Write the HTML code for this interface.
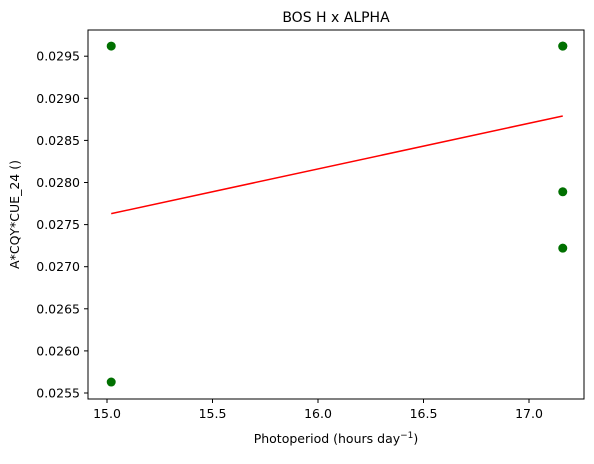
<!DOCTYPE html>
<html><head><meta charset="utf-8"><style>
body{margin:0;background:#fff;font-family:"DejaVu Sans","Liberation Sans",sans-serif;}
text{font-family:"DejaVu Sans","Liberation Sans",sans-serif;}
</style></head><body>
<svg id="chart" width="594" height="460" xmlns="http://www.w3.org/2000/svg"></svg>
<script>
const xTicks=[15.0,15.5,16.0,16.5,17.0];
const xTickLabels=["15.0","15.5","16.0","16.5","17.0"];
const yTicks=[0.0255,0.0260,0.0265,0.0270,0.0275,0.0280,0.0285,0.0290,0.0295];
const yTickLabels=["0.0255","0.0260","0.0265","0.0270","0.0275","0.0280","0.0285","0.0290","0.0295"];
const pointX=[15.02,15.02,17.16,17.16,17.16,17.16];
const pointY=[0.02962,0.02563,0.02962,0.02962,0.02789,0.02722];
const fitX=[15.02,17.16];
const fitY=[0.02763,0.02879];
const L=88,R=584,T=30,B=399;
const xs=v=>107+(v-15.0)*211;
const ys=v=>393-(v-0.0255)/0.0005*42.1;
const svg=document.getElementById('chart');
const NS="http://www.w3.org/2000/svg";
function mk(tag,attrs,parent){const e=document.createElementNS(NS,tag);for(const k in attrs)e.setAttribute(k,attrs[k]);(parent||svg).appendChild(e);return e;}
let frame=mk('rect',{x:L,y:T,width:R-L,height:B-T,fill:'none',stroke:'#000','stroke-width':1});


xTicks.forEach((v,i)=>{
 const x=xs(v);
 let t=mk('line',{x1:x,x2:x,y1:B,y2:B+4,stroke:'#000'});
 
 
 let l=mk('text',{x:x,y:B+19,'font-size':12.5,'text-anchor':'middle'});
 l.textContent=xTickLabels[i];
 
 
});
yTicks.forEach((v,i)=>{
 const y=ys(v);
 let t=mk('line',{x1:L-4,x2:L,y1:y,y2:y,stroke:'#000'});
 
 
 let l=mk('text',{x:L-8,y:y+4.5,'font-size':12.5,'text-anchor':'end'});
 l.textContent=yTickLabels[i];
 
 
});
let fit=mk('line',{x1:xs(fitX[0]),y1:ys(fitY[0]),x2:xs(fitX[1]),y2:ys(fitY[1]),stroke:'#ff0000','stroke-width':1.5});


pointX.forEach((v,i)=>{
 let c=mk('circle',{cx:xs(v),cy:ys(pointY[i]),r:4.5,fill:'#007000'});
 
 
});
let title=mk('text',{x:(L+R)/2,y:22,'font-size':14,'text-anchor':'middle'});
title.textContent='BOS H x ALPHA';


let xt=mk('text',{x:(L+R)/2,y:443,'font-size':12.5,'text-anchor':'middle'});
xt.innerHTML='Photoperiod (hours day<tspan dy="-5" font-size="9">−1</tspan><tspan dy="5">)</tspan>';


let yt=mk('text',{x:19,y:(T+B)/2,'font-size':12.5,'text-anchor':'middle',transform:`rotate(-90 19 ${(T+B)/2})`});
yt.textContent='A*CQY*CUE_24 ()';


</script>
</body></html>
